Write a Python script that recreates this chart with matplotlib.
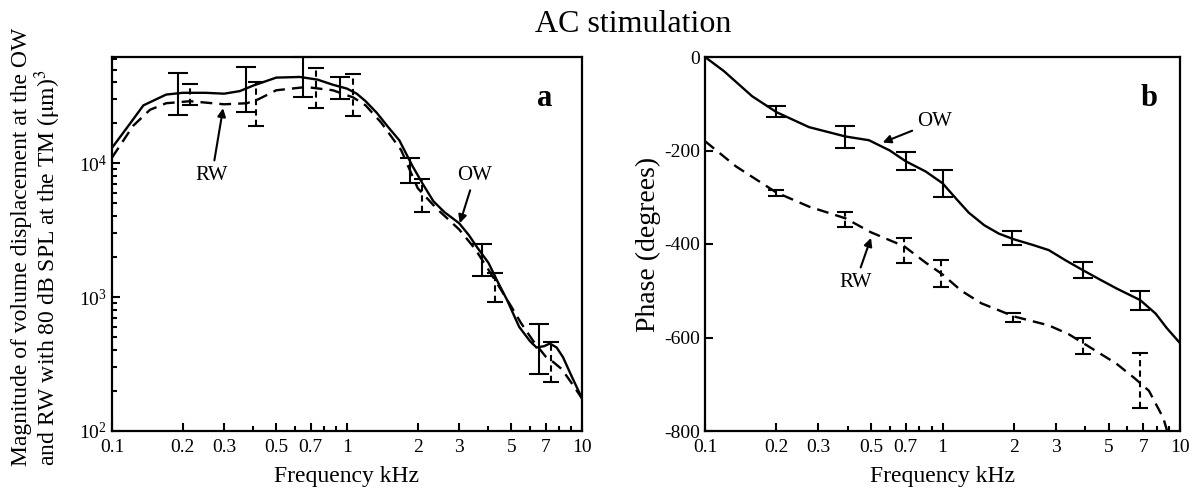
import matplotlib
matplotlib.use("Agg")
import matplotlib.pyplot as plt
import numpy as np
from matplotlib.ticker import FixedLocator, FixedFormatter, NullFormatter, LogLocator

plt.rcParams['font.family'] = ['Liberation Serif', 'DejaVu Serif']
plt.rcParams['mathtext.fontset'] = 'stix'

# ---------------- Panel a: magnitude ----------------
ow_mag_f = [0.1, 0.12, 0.136, 0.17, 0.2, 0.25, 0.3, 0.35, 0.4, 0.5, 0.63, 0.75, 0.87, 1.0, 1.1,
            1.2, 1.34, 1.5, 1.67, 1.9, 2.1, 2.33, 2.6, 3.0, 3.3, 3.58, 4.0, 4.34, 4.8, 5.4, 6.0,
            6.4, 6.9, 7.3, 7.8, 8.3, 9.0, 10.0]
ow_mag_v = [13000, 20000, 27000, 32500, 33500, 33500, 33000, 34500, 38000, 43500, 44000, 42000,
            38500, 36000, 33000, 29000, 23700, 18500, 14800, 9500, 7000, 5200, 4300, 3560, 2900,
            2350, 1800, 1340, 950, 600, 470, 420, 430, 450, 420, 356, 260, 175]

rw_mag_f = [0.1, 0.123, 0.145, 0.17, 0.215, 0.3, 0.375, 0.42, 0.5, 0.67, 0.87, 1.06, 1.2, 1.4,
            1.7, 2.0, 2.4, 3.0, 3.5, 4.0, 4.5, 5.0, 5.5, 6.2, 7.0, 7.5, 8.2, 9.0, 10.0]
rw_mag_v = [11000, 19000, 25000, 28000, 29000, 27500, 28000, 30000, 35000, 37000, 35000, 31000,
            27000, 20000, 12500, 6500, 4600, 3200, 2300, 1600, 1150, 850, 640, 470, 360, 330,
            290, 230, 175]

ow_mag_err_f = [0.19, 0.37, 0.65, 0.93, 1.86, 3.76, 6.55]
ow_mag_err_c = [33000, 35000, 43700, 37000, 8500, 1900, 410]
ow_mag_err_lo = [22800, 24000, 31000, 30000, 7100, 1440, 266]
ow_mag_err_hi = [47000, 52000, 61700, 43700, 10900, 2490, 630]

rw_mag_err_f = [0.215, 0.41, 0.74, 1.06, 2.08, 4.27, 7.37]
rw_mag_err_c = [29000, 28500, 37000, 31000, 6000, 1200, 330]
rw_mag_err_lo = [27000, 18900, 26000, 22400, 4300, 920, 232]
rw_mag_err_hi = [39000, 40000, 51000, 46000, 7600, 1500, 460]

# ---------------- Panel b: phase ----------------
ow_ph_f = [0.1, 0.12, 0.158, 0.2, 0.274, 0.39, 0.49, 0.6, 0.7, 0.85, 1.0, 1.15, 1.29, 1.5, 1.73,
           2.0, 2.4, 2.8, 3.3, 3.9, 4.6, 5.4, 6.2, 6.8, 7.9, 8.8, 10.0]
ow_ph_v = [0, -30, -84, -118, -150, -170, -178, -200, -223, -245, -270, -305, -333, -360, -378,
           -390, -402, -413, -435, -456, -476, -495, -510, -520, -549, -580, -612]

rw_ph_f = [0.1, 0.135, 0.2, 0.274, 0.39, 0.5, 0.69, 0.85, 1.0, 1.2, 1.46, 1.73, 2.0, 2.8, 3.4,
           4.0, 5.4, 6.4, 7.4, 8.5, 9.2]
rw_ph_v = [-180, -234, -290, -320, -345, -375, -405, -440, -465, -500, -527, -542, -555, -574,
           -593, -615, -656, -686, -714, -772, -830]

ow_ph_err_f = [0.2, 0.39, 0.7, 1.0, 1.96, 3.9, 6.8]
ow_ph_err_c = [-118, -170, -223, -269, -388, -455, -520]
ow_ph_err_lo = [-129, -194, -241, -299, -402, -473, -542]
ow_ph_err_hi = [-105, -148, -204, -241, -372, -438, -500]

rw_ph_err_f = [0.2, 0.39, 0.69, 0.99, 1.99, 3.9, 6.8]
rw_ph_err_c = [-290, -348, -410, -466, -555, -615, -700]
rw_ph_err_lo = [-297, -363, -441, -492, -567, -636, -750]
rw_ph_err_hi = [-285, -331, -387, -434, -548, -602, -634]

xtick_vals = [0.1, 0.2, 0.3, 0.5, 0.7, 1, 2, 3, 5, 7, 10]
xtick_labels = ['0.1', '0.2', '0.3', '0.5', '0.7', '1', '2', '3', '5', '7', '10']
ph_tick_vals = [-800, -600, -400, -200, 0]
ph_tick_labels = ['-800', '-600', '-400', '-200', '0']

fig = plt.figure(figsize=(12, 4.99), dpi=100)
W, H = 1200, 499
axa = fig.add_axes([112 / W, (H - 431) / H, 470 / W, 374 / H])
axb = fig.add_axes([705 / W, (H - 431) / H, 475 / W, 374 / H])

dash = (0, (5, 3))
lw = 1.7


def errbars(ax, f, c, lo, hi, ls, cap):
    c = np.array(c, float)
    yerr = [c - np.array(lo, float), np.array(hi, float) - c]
    eb = ax.errorbar(f, c, yerr=yerr, fmt='none', ecolor='black', elinewidth=1.5,
                     capsize=cap, capthick=1.5, zorder=3, clip_on=False)
    if ls != '-':
        for lc in eb[2]:
            lc.set_linestyle(ls)


# panel a
axa.plot(ow_mag_f, ow_mag_v, color='black', lw=lw)
axa.plot(rw_mag_f, rw_mag_v, color='black', lw=lw, linestyle=dash)
errbars(axa, ow_mag_err_f, ow_mag_err_c, ow_mag_err_lo, ow_mag_err_hi, '-', 7)
errbars(axa, rw_mag_err_f, rw_mag_err_c, rw_mag_err_lo, rw_mag_err_hi, (0, (3, 2)), 6)
axa.set_xscale('log')
axa.set_yscale('log')
axa.set_xlim(0.1, 10)
axa.set_ylim(100, 62000)
axa.yaxis.set_major_locator(FixedLocator([1e2, 1e3, 1e4]))
axa.yaxis.set_minor_locator(LogLocator(base=10, subs=np.arange(2, 10)))
axa.yaxis.set_minor_formatter(NullFormatter())

# panel b
axb.plot(ow_ph_f, ow_ph_v, color='black', lw=lw)
axb.plot(rw_ph_f, rw_ph_v, color='black', lw=lw, linestyle=dash)
errbars(axb, ow_ph_err_f, ow_ph_err_c, ow_ph_err_lo, ow_ph_err_hi, '-', 7)
errbars(axb, rw_ph_err_f, rw_ph_err_c, rw_ph_err_lo, rw_ph_err_hi, (0, (3, 2)), 6)
axb.set_xscale('log')
axb.set_xlim(0.1, 10)
axb.set_ylim(-800, 0)
axb.set_yticks(ph_tick_vals)
axb.set_yticklabels(ph_tick_labels)

for ax in (axa, axb):
    ax.xaxis.set_major_locator(FixedLocator(xtick_vals))
    ax.xaxis.set_major_formatter(FixedFormatter(xtick_labels))
    ax.xaxis.set_minor_locator(LogLocator(base=10, subs=np.arange(2, 10)))
    ax.xaxis.set_minor_formatter(NullFormatter())
    ax.tick_params(which='both', direction='in', top=False, right=False, labelsize=14, width=1.5)
    ax.tick_params(which='major', length=6)
    ax.tick_params(which='minor', length=3.5)
    ax.tick_params(axis='x', pad=6)
    for s in ax.spines.values():
        s.set_linewidth(1.6)
    ax.set_xlabel('Frequency kHz', fontsize=17, labelpad=7)

axb.set_ylabel('Phase (degrees)', fontsize=20, labelpad=2)

fig.text(37 / W, (H - 466) / H,
         'Magnitude of volume displacement at the OW\nand RW with 80 dB SPL at the TM ($\\mathrm{\\mu m}$)$^3$',
         rotation=90, fontsize=17, ha='center', va='bottom', multialignment='left',
         linespacing=1.0)

fig.text(633 / W, 1 - 32 / H, 'AC stimulation', fontsize=23, ha='center', va='baseline')

axa.text(0.92, 0.89, 'a', transform=axa.transAxes, fontsize=22, fontweight='bold',
         ha='center', va='center')
axb.text(0.935, 0.89, 'b', transform=axb.transAxes, fontsize=22, fontweight='bold',
         ha='center', va='center')

ap = dict(arrowstyle='-|>', color='black', lw=1.5, mutation_scale=12, shrinkA=2, shrinkB=0)
axa.annotate('RW', xy=(0.297, 25700), xytext=(0.266, 8100), fontsize=15,
             ha='center', va='center', arrowprops=ap)
axa.annotate('OW', xy=(3.02, 3560), xytext=(3.5, 8100), fontsize=15,
             ha='center', va='center', arrowprops=ap)
axb.annotate('OW', xy=(0.56, -183), xytext=(0.93, -138), fontsize=15,
             ha='center', va='center', arrowprops=ap)
axb.annotate('RW', xy=(0.50, -387), xytext=(0.43, -482), fontsize=15,
             ha='center', va='center', arrowprops=ap)

fig.savefig('out.png', dpi=100)
